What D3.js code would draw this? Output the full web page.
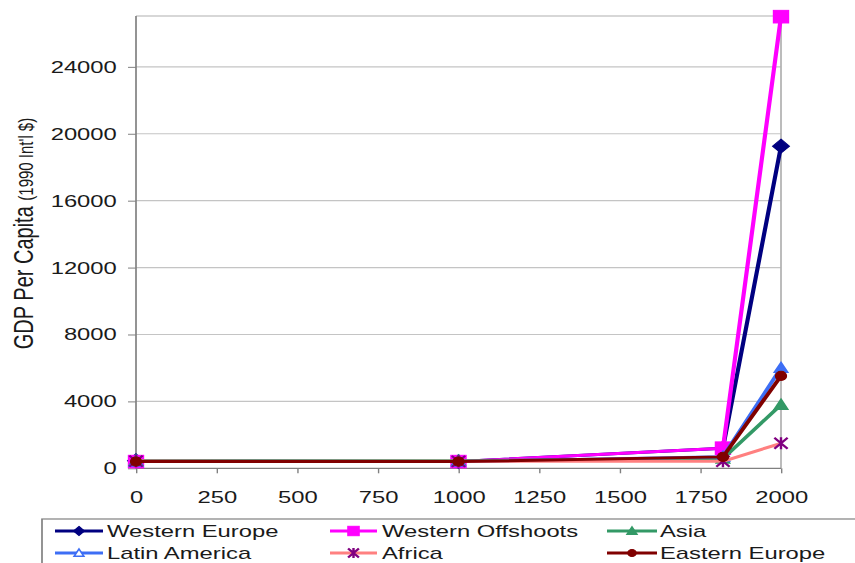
<!DOCTYPE html>
<html>
<head>
<meta charset="utf-8">
<script src="https://cdn.jsdelivr.net/npm/d3@7"></script>
<style>
  html, body { margin: 0; padding: 0; background: #fff; }
  svg { display: block; }
  text { font-family: "Liberation Sans", Arial, Helvetica, sans-serif; fill: #1a1a1a; }
</style>
</head>
<body>
<svg id="chart" width="855" height="563"></svg>
<script>
// GDP per capita by region (1990 international dollars)
const years = [0, 1000, 1820, 2000];
const westernEurope    = [450, 400, 1204, 19260];
const westernOffshoots = [400, 400, 1202, 27000];
const asia             = [450, 450, 581, 3800];
const latinAmerica     = [400, 400, 692, 6000];
const africa           = [430, 416, 420, 1495];
const easternEurope    = [400, 400, 683, 5520];

const seriesNames = ["Western Europe", "Western Offshoots", "Asia",
                     "Latin America", "Africa", "Eastern Europe"];
const seriesValues = [westernEurope, westernOffshoots, asia,
                      latinAmerica, africa, easternEurope];

const xTickValues = [0, 250, 500, 750, 1000, 1250, 1500, 1750, 2000];
const yTickValues = [0, 4000, 8000, 12000, 16000, 20000, 24000];
const yAxisLabel = "GDP Per Capita ";
const yAxisUnit = "(1990 Int'l $)";

// Per-series appearance
const styles = [
  { line: "#000080", marker: "diamond",  mColor: "#000080", mFill: "#000080" },
  { line: "#FF00FF", marker: "square",   mColor: "#FF00FF", mFill: "#FF00FF" },
  { line: "#339966", marker: "triangle", mColor: "#339966", mFill: "#339966" },
  { line: "#3D6EF5", marker: "triangle", mColor: "#3D6EF5", mFill: "#3D6EF5", legendFill: "#ffffff" },
  { line: "#FF8080", marker: "star",     mColor: "#800080", mFill: "none" },
  { line: "#800000", marker: "circle",   mColor: "#800000", mFill: "#800000" }
];

// The whole figure is drawn with a wide horizontal aspect
const SX = 1.4;
const svg = d3.select("#chart");
const root = svg.append("g").attr("transform", `scale(${SX},1)`);

const x = d3.scaleLinear().domain([0, 2000]).range([136 / SX, 781 / SX]);
const y = d3.scaleLinear().domain([0, 27040]).range([468.3, 16]);

const [x0, x1] = x.range();
const [yBottom, yTop] = y.range();

// Horizontal gridlines
root.append("g").selectAll("line")
  .data(yTickValues.filter(v => v > 0))
  .join("line")
  .attr("x1", x0).attr("x2", x1)
  .attr("y1", d => y(d)).attr("y2", d => y(d))
  .attr("stroke", "#c4c4c4").attr("stroke-width", 1.2);

// Plot frame (top and right)
root.append("line").attr("x1", x0).attr("x2", x1).attr("y1", yTop).attr("y2", yTop)
  .attr("stroke", "#b0b0b0").attr("stroke-width", 1.2);
root.append("line").attr("x1", x1).attr("x2", x1).attr("y1", yTop).attr("y2", yBottom)
  .attr("stroke", "#b0b0b0").attr("stroke-width", 1.2);

// Y axis
const yAxis = root.append("g")
  .attr("transform", `translate(${x0},0)`)
  .call(d3.axisLeft(y).tickValues(yTickValues).tickSize(8 / SX).tickPadding(8).tickFormat(d3.format("d")));
yAxis.select(".domain").remove();
yAxis.selectAll(".tick line").attr("stroke", "#808080");
yAxis.selectAll(".tick text").attr("font-size", 17).attr("fill", "#1a1a1a")
  .style("font-family", "'Liberation Sans', Arial, sans-serif");

// X axis
const xAxis = root.append("g")
  .attr("transform", `translate(0,${yBottom})`)
  .call(d3.axisBottom(x).tickValues(xTickValues).tickSize(5).tickPadding(17.5).tickFormat(d3.format("d")));
xAxis.select(".domain").remove();
xAxis.selectAll(".tick line").attr("stroke", "#808080");
xAxis.selectAll(".tick text").attr("font-size", 17).attr("fill", "#1a1a1a")
  .style("font-family", "'Liberation Sans', Arial, sans-serif");

// Axis lines
root.append("line").attr("x1", x0).attr("x2", x0).attr("y1", yTop).attr("y2", yBottom)
  .attr("stroke", "#808080").attr("stroke-width", 1.2);
root.append("line").attr("x1", x0).attr("x2", x1).attr("y1", yBottom).attr("y2", yBottom)
  .attr("stroke", "#808080").attr("stroke-width", 1.2);

// Y axis title
const yTitle = root.append("text")
  .attr("transform", `translate(23.8,233.5) rotate(-90)`)
  .attr("text-anchor", "middle");
yTitle.append("tspan").attr("font-size", 20).text(yAxisLabel);
yTitle.append("tspan").attr("font-size", 15).text(yAxisUnit);

// Marker shapes
function drawMarker(g, type, cx, cy, s, color, fill) {
  const m = g.append("g").attr("transform", `translate(${cx},${cy}) scale(0.86,1)`);
  if (type === "diamond") {
    m.append("path").attr("d", `M0,${-s}L${s},0L0,${s}L${-s},0Z`).attr("fill", fill).attr("stroke", color);
  } else if (type === "square") {
    m.append("rect").attr("x", -s).attr("y", -s).attr("width", 2 * s).attr("height", 2 * s)
      .attr("fill", fill).attr("stroke", color);
  } else if (type === "triangle") {
    m.append("path").attr("d", `M0,${-s}L${s},${s * 0.8}L${-s},${s * 0.8}Z`)
      .attr("fill", fill).attr("stroke", color).attr("stroke-width", 1.5);
  } else if (type === "circle") {
    m.append("circle").attr("r", s).attr("fill", fill).attr("stroke", color);
  } else if (type === "star") {
    m.append("path").attr("d", `M${-s},${-s}L${s},${s}M${-s},${s}L${s},${-s}M0,${-s * 1.1}L0,${s * 1.1}`)
      .attr("fill", "none").attr("stroke", color).attr("stroke-width", 2);
  }
}

const markerSize = { diamond: 7, square: 6.3, triangle: 5.5, circle: 4.6, star: 5.5 };
const legendMarkerSize = { diamond: 4.6, square: 4.7, triangle: 4, circle: 3.5, star: 4.5 };

// Series lines and markers
const line = d3.line().x(d => x(d[0])).y(d => y(d[1]));
seriesValues.forEach((vals, i) => {
  const st = styles[i];
  const pts = years.map((yr, j) => [yr, vals[j]]);
  const g = root.append("g");
  g.append("path").datum(pts).attr("d", line)
    .attr("fill", "none").attr("stroke", st.line).attr("stroke-width", 3)
    .attr("stroke-linejoin", "round");
  pts.forEach(p => drawMarker(g, st.marker, x(p[0]), y(p[1]), markerSize[st.marker], st.mColor, st.mFill));
});

// Legend
const legend = root.append("g");
legend.append("rect").attr("x", 42 / SX).attr("y", 519).attr("width", 700).attr("height", 100)
  .attr("fill", "#fff").attr("stroke", "#808080").attr("stroke-width", 1.2);

const colLine = [[55 / SX, 103 / SX], [330 / SX, 377 / SX], [607 / SX, 657 / SX]];
const colText = [107 / SX, 382 / SX, 660 / SX];
const rowLineY = [531, 553];
const rowTextY = [537.5, 559];

seriesNames.forEach((name, i) => {
  const col = i % 3, row = Math.floor(i / 3);
  const st = styles[i];
  const [lx0, lx1] = colLine[col];
  const ly = rowLineY[row];
  legend.append("line").attr("x1", lx0).attr("x2", lx1).attr("y1", ly).attr("y2", ly)
    .attr("stroke", st.line).attr("stroke-width", 3);
  drawMarker(legend, st.marker, (lx0 + lx1) / 2, ly, legendMarkerSize[st.marker],
    st.mColor, st.legendFill || st.mFill);
  legend.append("text").attr("x", colText[col]).attr("y", rowTextY[row])
    .attr("font-size", 17).text(name);
});
</script>
</body>
</html>
